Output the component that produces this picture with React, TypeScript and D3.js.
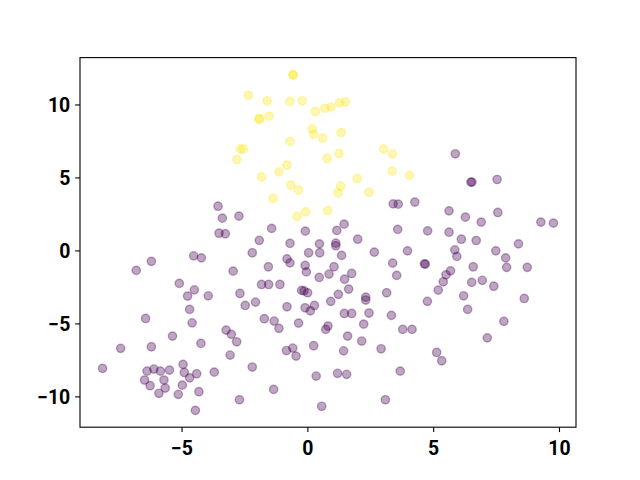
import React, { useEffect, useRef } from 'react';
import * as d3 from 'd3';

// points, [x, y]
const yellowPoints: [number, number][] = [
  [-2.35, 10.62], [-2.66, 6.96], [-2.54, 6.94], [-2.81, 6.23], [-0.58, 12.06],
  [-0.56, 11.99], [-1.6, 10.25], [-0.7, 10.21], [-0.21, 10.25], [0.32, 9.52],
  [0.7, 9.73], [0.94, 9.82], [1.28, 10.11], [1.51, 10.18], [-1.93, 9.04],
  [-1.89, 8.99], [-1.52, 9.2], [0.19, 8.33], [0.25, 7.97], [0.61, 7.69],
  [1.34, 8.08], [-0.69, 7.47], [0.78, 6.3], [1.26, 6.64], [3.03, 6.96],
  [3.38, 6.62], [-0.81, 5.84], [-1.13, 5.38], [-1.82, 5.04], [3.37, 5.43],
  [4.06, 5.14], [1.98, 4.93], [-0.65, 4.47], [-0.35, 4.13], [1.32, 4.4],
  [1.22, 3.95], [2.45, 3.99], [-1.36, 3.56], [0.81, 2.74], [-0.07, 2.64],
  [-0.41, 2.33],
];

const purplePoints: [number, number][] = [
  [-3.55, 3.03], [-3.38, 2.21], [-2.72, 2.35], [-3.51, 1.18], [-3.26, 1.14],
  [-1.42, 1.51], [-1.91, 0.69], [-0.69, 0.48], [-0.08, 1.32], [0.48, 0.45],
  [1.13, 0.5], [1.13, 0.32], [1.17, 1.37], [1.46, 1.8], [2.0, 0.77],
  [3.41, 3.19], [3.61, 3.17], [3.59, 1.44],
  [5.88, 6.62], [6.5, 4.68], [6.54, 4.68], [7.54, 4.86], [4.27, 3.31],
  [5.63, 2.71], [6.28, 2.28], [6.91, 1.94], [7.57, 2.6], [4.78, 1.34],
  [5.63, 1.25], [6.12, 0.77], [6.71, 0.68], [8.39, 0.45], [9.28, 1.94],
  [9.78, 1.87],
  [3.98, -0.03], [5.86, 0.04], [5.94, -0.41], [7.49, -0.03], [7.88, -0.51],
  [7.92, -1.16], [8.74, -1.16], [4.65, -0.92], [4.69, -0.94], [5.69, -1.4],
  [5.51, -1.67], [5.4, -2.15], [5.2, -2.72], [6.59, -1.12], [6.53, -2.19],
  [6.95, -2.05], [7.41, -2.45], [4.77, -3.49], [6.21, -3.11], [6.37, -4.04],
  [8.62, -3.29], [7.81, -4.86], [7.15, -5.99], [3.79, -5.41], [4.16, -5.41],
  [5.14, -6.99], [5.34, -7.56],
  [-2.19, -0.16], [0.05, -0.16], [0.49, -0.16], [1.36, -0.34], [2.66, -0.12],
  [-0.81, -0.58], [-0.69, -0.85], [-1.55, -1.12], [-0.09, -1.03], [-0.04, -1.47],
  [1.06, -1.12], [0.86, -1.62], [0.47, -1.85], [1.48, -1.97], [1.76, -1.58],
  [3.39, -0.87], [3.55, -1.71], [-1.82, -2.33], [-1.54, -2.33], [-1.09, -2.33],
  [-0.23, -2.74], [-0.13, -2.77], [0.01, -2.9], [1.64, -2.65], [1.23, -3.01],
  [0.93, -3.49], [2.32, -3.2], [2.32, -3.4], [3.15, -2.9], [-2.06, -3.54],
  [-0.81, -3.86], [-0.09, -3.93], [0.12, -4.14], [0.28, -3.77], [1.47, -4.32],
  [1.76, -4.32], [2.45, -4.29], [3.34, -4.45], [-1.71, -4.68], [-1.32, -4.84],
  [-1.13, -5.34], [-0.35, -4.98], [0.73, -5.41], [0.82, -5.18], [2.24, -5.05],
  [1.6, -5.87], [2.16, -6.21], [1.44, -6.88], [2.93, -6.74], [-0.83, -6.86],
  [-0.58, -6.69], [-0.45, -7.24], [0.25, -6.53], [-2.19, -7.99], [1.2, -8.42],
  [1.56, -8.49], [0.35, -8.61], [3.69, -8.27], [-1.34, -9.52], [3.1, -10.23],
  [0.57, -10.68],
  [-4.52, -0.37], [-4.21, -0.51], [-6.2, -0.75], [-6.8, -1.37], [-2.95, -1.42],
  [-5.09, -2.26], [-4.49, -2.7], [-4.76, -3.13], [-3.94, -3.11], [-2.68, -2.95],
  [-2.47, -3.77], [-4.68, -4.04], [-6.43, -4.66], [-4.58, -4.96], [-3.23, -5.46],
  [-3.02, -5.75], [-2.81, -6.26], [-5.36, -5.87], [-7.42, -6.71], [-6.2, -6.6],
  [-4.23, -6.37], [-3.07, -7.17], [-8.14, -8.08], [-6.37, -8.27], [-6.1, -8.13],
  [-5.84, -8.27], [-5.48, -8.2], [-4.94, -7.81], [-4.89, -8.36], [-4.4, -8.45],
  [-4.68, -8.73], [-3.7, -8.34], [-6.47, -8.88], [-6.25, -9.27], [-5.7, -8.88],
  [-5.65, -9.43], [-5.9, -9.79], [-4.97, -9.23], [-5.13, -9.86], [-4.31, -9.68],
  [-2.7, -10.23], [-4.45, -10.96],
];

const xTicks = [-5, 0, 5, 10];
const yTicks = [-10, -5, 0, 5, 10];
const purple = '#440154';
const yellow = '#fde725';

export default function App() {
  const ref = useRef<SVGSVGElement>(null);

  useEffect(() => {
    const left = 80, right = 576, top = 57.6, bottom = 427.2;
    const svg = d3.select(ref.current);
    svg.selectAll('*').remove();

    // matplotlib style autoscale: 5% margin on the data range
    const all = [...purplePoints, ...yellowPoints];
    const [x0, x1] = d3.extent(all, d => d[0]) as [number, number];
    const [y0, y1] = d3.extent(all, d => d[1]) as [number, number];
    const mx = (x1 - x0) * 0.05;
    const my = (y1 - y0) * 0.05;

    const xScale = d3.scaleLinear().domain([x0 - mx, x1 + mx]).range([left, right]);
    const yScale = d3.scaleLinear().domain([y0 - my, y1 + my]).range([bottom, top]);

    svg.append('rect').attr('width', 640).attr('height', 480).attr('fill', 'white');

    const pts = svg.append('g');
    const draw = (data: [number, number][], color: string) => {
      pts.selectAll(null)
        .data(data)
        .enter()
        .append('circle')
        .attr('cx', d => xScale(d[0]))
        .attr('cy', d => yScale(d[1]))
        .attr('r', 4.17)
        .attr('fill', color)
        .attr('fill-opacity', 0.35)
        .attr('stroke', color)
        .attr('stroke-opacity', 0.35)
        .attr('stroke-width', 1.39);
    };
    draw(purplePoints, purple);
    draw(yellowPoints, yellow);

    const font = (g: any) => g
      .attr('font-family', 'Roboto, sans-serif')
      .attr('font-size', 19.44)
      .attr('font-weight', 'bold');

    const xAxis = svg.append('g')
      .attr('transform', `translate(0,${bottom})`)
      .call(d3.axisBottom(xScale).tickValues(xTicks).tickSize(4.86).tickPadding(4.86).tickSizeOuter(0).tickFormat(d3.format('d')))
      .call(font);
    xAxis.select('.domain').remove();
    xAxis.selectAll('line').attr('stroke-width', 1.1);
    xAxis.selectAll('text').attr('fill', 'black').attr('dy', '0.93em');

    const yAxis = svg.append('g')
      .attr('transform', `translate(${left},0)`)
      .call(d3.axisLeft(yScale).tickValues(yTicks).tickSize(4.86).tickPadding(4.86).tickSizeOuter(0).tickFormat(d3.format('d')))
      .call(font);
    yAxis.select('.domain').remove();
    yAxis.selectAll('line').attr('stroke-width', 1.1);
    yAxis.selectAll('text').attr('fill', 'black').attr('dy', '0.36em');

    svg.append('rect')
      .attr('x', left)
      .attr('y', top)
      .attr('width', right - left)
      .attr('height', bottom - top)
      .attr('fill', 'none')
      .attr('stroke', 'black')
      .attr('stroke-width', 1.1);
  }, []);

  return (
    <svg
      ref={ref}
      width={640}
      height={480}
      style={{ position: 'absolute', left: 0, top: 0 }}
    />
  );
}
